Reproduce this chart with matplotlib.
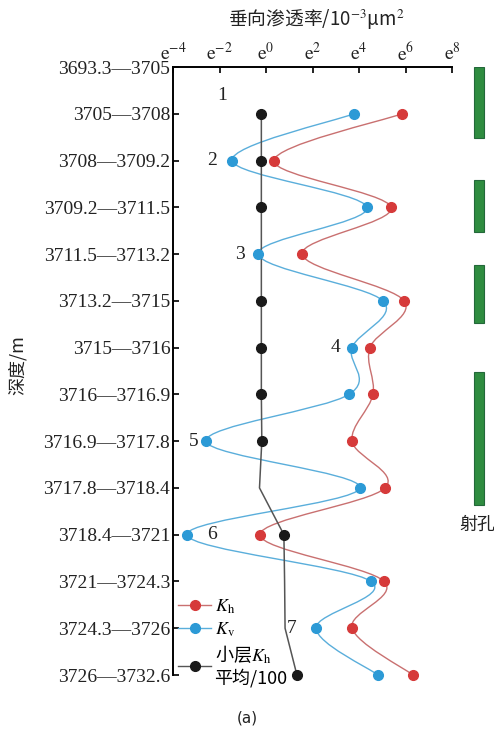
import numpy as np
import matplotlib
matplotlib.use('Agg')
import matplotlib.pyplot as plt
from matplotlib.path import Path
from matplotlib.patches import PathPatch
from matplotlib.lines import Line2D

plt.rcParams['mathtext.fontset'] = 'stix'

# depth intervals (rows, top to bottom)
depth_labels = ["3693.3—3705", "3705—3708", "3708—3709.2", "3709.2—3711.5",
                "3711.5—3713.2", "3713.2—3715", "3715—3716", "3716—3716.9",
                "3716.9—3717.8", "3717.8—3718.4", "3718.4—3721", "3721—3724.3",
                "3724.3—3726", "3726—3732.6"]
rows = np.arange(1, 14)

# ln of permeability (10^-3 um^2)
kh_ln = [5.85, 0.34, 5.38, 1.55, 5.94, 4.47, 4.60, 3.70, 5.12, -0.26, 5.08, 3.70, 6.32]
kv_ln = [3.78, -1.46, 4.34, -0.34, 5.03, 3.70, 3.57, -2.58, 4.04, -3.40, 4.52, 2.15, 4.82]
avg_ln = [-0.2, -0.2, -0.2, -0.2, -0.2, -0.2, -0.2, -0.18, -0.28, 0.77, 0.80, 0.82, 1.33]
avg_marked = np.array([1, 1, 1, 0, 1, 1, 1, 1, 0, 1, 0, 0, 1], dtype=bool)

# layer numbers
layer_no = ["1", "2", "3", "4", "5", "6", "7"]
layer_row = [0.6, 2, 4, 6, 8, 10, 12]
layer_x = [-1.89, -2.32, -1.11, 3.0, -3.12, -2.32, 1.12]

# perforated intervals (in row units)
perf_top = [0.0, 2.41, 4.23, 6.52]
perf_bottom = [1.52, 3.53, 5.47, 9.36]

red, red_line = '#d63a3a', '#c97070'
blue, blue_line = '#2c9ad6', '#5aaedb'
black, black_line = '#1a1a1a', '#555555'
serif = 'Liberation Serif'
cjk = 'Noto Sans CJK SC'


def smooth_path(x, y):
    # Catmull-Rom curve through the points, as cubic bezier segments
    pts = np.column_stack([x, y]).astype(float)
    ext = np.vstack([pts[0], pts, pts[-1]])
    verts = [pts[0]]
    codes = [Path.MOVETO]
    for i in range(len(pts) - 1):
        p0, p1, p2, p3 = ext[i], ext[i + 1], ext[i + 2], ext[i + 3]
        verts += [p1 + (p2 - p0) / 6, p2 - (p3 - p1) / 6, p2]
        codes += [Path.CURVE4] * 3
    return Path(verts, codes)


fig = plt.figure(figsize=(4.94, 7.31), dpi=100)
ax = fig.add_axes([173 / 494, 1 - 675 / 731, (452 - 173) / 494, (675 - 67) / 731])
ax.set_xlim(-4, 8)
ax.set_ylim(13, 0)

for x, c in [(kh_ln, red_line), (kv_ln, blue_line)]:
    ax.add_patch(PathPatch(smooth_path(x, rows), facecolor='none', edgecolor=c,
                           lw=1.0, clip_on=False, zorder=2))
ax.plot(avg_ln, rows, color=black_line, lw=1.1, zorder=2, clip_on=False)

ax.plot(np.array(avg_ln)[avg_marked], rows[avg_marked], 'o', color=black, ms=7,
        zorder=4, clip_on=False)
ax.plot(kh_ln, rows, 'o', color=red, ms=7, zorder=5, clip_on=False)
ax.plot(kv_ln, rows, 'o', color=blue, ms=7, zorder=5, clip_on=False)

for t, r, x in zip(layer_no, layer_row, layer_x):
    ax.text(x, r, t, ha='center', va='center', family=serif, fontsize=14, color='#222222')

# axes styling
for s in ['right', 'bottom']:
    ax.spines[s].set_visible(False)
for s in ['left', 'top']:
    ax.spines[s].set_linewidth(1.4)
ax.xaxis.tick_top()
ax.set_xticks(range(-4, 9, 2))
ax.set_xticklabels([r'$\mathrm{e}^{%d}$' % v for v in range(-4, 9, 2)], fontsize=14)
ax.set_yticks(range(len(depth_labels)))
ax.set_yticklabels(depth_labels, family=serif, fontsize=14)
ax.tick_params(direction='in', length=4, width=1.4, pad=2, colors='#222222')

handles = [
    Line2D([], [], color=red_line, lw=1, marker='o', ms=7, mfc=red, mec=red),
    Line2D([], [], color=blue_line, lw=1, marker='o', ms=7, mfc=blue, mec=blue),
    Line2D([], [], color=black_line, lw=1, marker='o', ms=7, mfc=black, mec=black),
]
labels = [r'$K_{\mathrm{h}}$', r'$K_{\mathrm{v}}$', '小层$K_{\\mathrm{h}}$\n平均/100']
ax.legend(handles, labels, loc='lower left', bbox_to_anchor=(0, -0.03), frameon=False,
          prop={'family': cjk, 'size': 13}, handlelength=1.8, handletextpad=0.2,
          labelspacing=0.25, borderpad=0.3, borderaxespad=0)

# perforation bars
ax2 = fig.add_axes([468 / 494, 1 - 675 / 731, 22 / 494, (675 - 67) / 731])
ax2.set_xlim(0, 1)
ax2.set_ylim(13, 0)
ax2.bar([0.5] * len(perf_top), np.array(perf_bottom) - np.array(perf_top),
        bottom=perf_top, width=0.45, color='#2f8c40', edgecolor='#23683a', lw=0.8)
ax2.axis('off')

fig.text(316 / 494, 1 - 20 / 731, '垂向渗透率/10$^{-3}$μm$^{2}$', ha='center', va='center',
         family=cjk, fontsize=13.5, color='#222222')
fig.text(18 / 494, 1 - 365 / 731, '深度/m', rotation=90, ha='center', va='center',
         family=cjk, fontsize=13, color='#222222')
fig.text(477 / 494, 1 - 525 / 731, '射孔', ha='center', va='center', family=cjk,
         fontsize=13, color='#222222')
fig.text(247 / 494, 1 - 718 / 731, '(a)', ha='center', va='center', family='DejaVu Sans',
         fontsize=11, color='#222222')

fig.savefig('out.png', dpi=100, facecolor='white')
